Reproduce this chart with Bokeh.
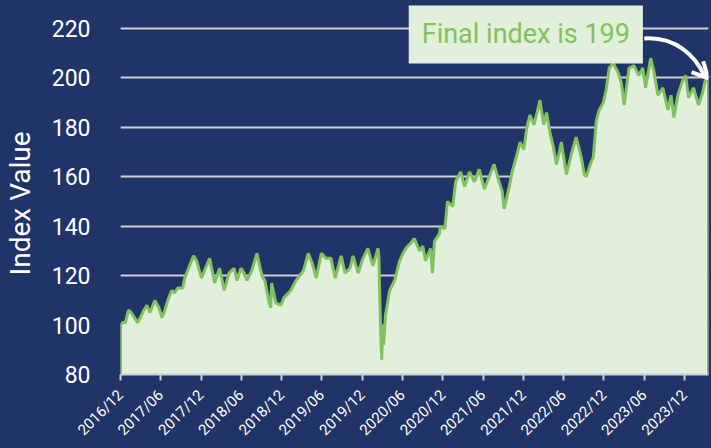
import pandas as pd
from math import pi
from bokeh.plotting import figure
from bokeh.models import (Range1d, MonthsTicker, DatetimeTickFormatter, SingleIntervalTicker,
                          Label, Arrow, OpenHead, GlobalInlineStyleSheet)
from bokeh.embed import file_html
from bokeh.resources import INLINE

# ---------------- data ----------------
dates = (
    ["2016-12-01", "2016-12-10", "2016-12-23"]
    + ["2017-01-06", "2017-01-19", "2017-02-02", "2017-02-16", "2017-03-01", "2017-03-17", "2017-03-31",
       "2017-04-13", "2017-05-06", "2017-05-24", "2017-06-07", "2017-06-20", "2017-07-03", "2017-07-21",
       "2017-08-04", "2017-08-17", "2017-09-09", "2017-09-18", "2017-10-10", "2017-10-28", "2017-11-11",
       "2017-12-03", "2017-12-21"]
    + ["2018-01-09", "2018-02-01", "2018-02-23", "2018-03-16", "2018-04-07", "2018-04-30", "2018-05-13",
       "2018-05-31", "2018-06-14", "2018-06-27", "2018-07-19", "2018-08-11", "2018-09-03", "2018-09-16",
       "2018-10-04", "2018-10-13", "2018-10-17", "2018-11-05", "2018-11-28", "2018-12-11"]
    + ["2019-01-12", "2019-02-04", "2019-03-10", "2019-04-01", "2019-04-19", "2019-05-07", "2019-05-30",
       "2019-06-21", "2019-07-13", "2019-08-01", "2019-08-28", "2019-09-15", "2019-10-07", "2019-10-21",
       "2019-11-13", "2019-12-05", "2019-12-27"]
    + ["2020-01-19", "2020-02-11", "2020-02-15", "2020-02-19", "2020-02-24", "2020-02-28", "2020-03-03",
       "2020-03-07", "2020-03-16", "2020-04-04", "2020-04-26", "2020-05-19", "2020-06-03", "2020-06-16",
       "2020-07-07", "2020-07-25", "2020-08-17", "2020-09-01", "2020-09-13", "2020-10-06", "2020-10-15",
       "2020-10-24", "2020-11-16", "2020-11-19", "2020-12-10", "2020-12-22"]
    + ["2021-01-15", "2021-01-28", "2021-02-20", "2021-03-09", "2021-04-01", "2021-04-23", "2021-05-15",
       "2021-06-07", "2021-06-29", "2021-07-21", "2021-08-13", "2021-08-27", "2021-09-05", "2021-09-28",
       "2021-10-11", "2021-11-02", "2021-11-16", "2021-12-03", "2021-12-17", "2021-12-31"]
    + ["2022-01-18", "2022-02-01", "2022-02-14", "2022-03-03", "2022-03-16", "2022-03-31", "2022-04-16",
       "2022-04-30", "2022-05-13", "2022-05-22", "2022-06-14", "2022-07-06", "2022-07-28", "2022-08-20",
       "2022-09-03", "2022-09-12", "2022-09-26", "2022-10-14", "2022-10-28", "2022-11-10", "2022-11-28",
       "2022-12-11", "2022-12-25"]
    + ["2023-01-12", "2023-02-04", "2023-02-18", "2023-03-03", "2023-03-25", "2023-04-16", "2023-05-08",
       "2023-05-26", "2023-06-08", "2023-07-01", "2023-07-15", "2023-08-03", "2023-08-25", "2023-09-17",
       "2023-10-01", "2023-10-14", "2023-11-01", "2023-11-23", "2023-12-06", "2023-12-20"]
    + ["2024-01-11", "2024-02-03", "2024-02-21", "2024-03-04", "2024-03-19"]
)

index_values = (
    [100, 101, 101]
    + [106, 105, 103, 101, 103, 106, 108, 105, 110, 107, 103, 106, 110, 114, 113, 115, 115, 119, 124, 128,
       126, 119, 123]
    + [127, 117, 123, 114, 121, 123, 118, 123, 121, 118, 122, 129, 120, 118, 110, 107, 117, 109, 108, 111]
    + [114, 118, 122, 129, 125, 119, 129, 127, 127, 119, 128, 121, 123, 128, 121, 127, 131]
    + [124, 131, 128, 112, 95, 86, 100, 92, 104, 114, 118, 126, 129, 131, 133, 135, 130, 132, 126, 131,
       121, 134, 137, 140, 139, 150]
    + [148, 158, 162, 156, 162, 158, 163, 155, 160, 165, 158, 154, 147, 156, 162, 169, 174, 171, 180, 185]
    + [181, 186, 191, 181, 186, 178, 172, 165, 170, 174, 161, 169, 176, 168, 161, 160, 164, 168, 183, 187,
       190, 195, 204]
    + [206, 202, 198, 189, 204, 205, 201, 204, 196, 208, 203, 193, 196, 187, 193, 184, 193, 199, 201, 192]
    + [196, 189, 194, 199, 199]
)

y_ticks_interval = 20
y_min, y_max = 80, 229.7
annotation_text = "Final index is 199"
axis_title = "Index Value"

# ---------------- styles ----------------
BG = "#213467"
FILL = "#e2efda"
GREEN = "#82c160"
GRID = "#cfd0d6"


def ms(d):
    return pd.Timestamp(d).value / 1e6


xs_ms = [ms(d) for d in dates]

p = figure(width=711, height=448, x_axis_type="datetime", output_backend="svg", toolbar_location=None,
           x_range=Range1d(xs_ms[0], xs_ms[-1]), y_range=Range1d(y_min, y_max),
           min_border_left=115, min_border_right=3, min_border_top=4, min_border_bottom=74,
           background_fill_color=BG, border_fill_color=BG, outline_line_color=None)
p.stylesheets = [GlobalInlineStyleSheet(
    css="html,body{margin:0;padding:0;background:#213467;overflow:hidden;}")]

# area + outline
p.varea(x=xs_ms, y1=y_min, y2=index_values, fill_color=FILL)
p.line(x=[xs_ms[0]] + xs_ms + [xs_ms[-1]], y=[y_min] + index_values + [y_min],
       line_color=GREEN, line_width=3)

# axes
p.xaxis.ticker = MonthsTicker(months=[5, 11])
p.xaxis.formatter = DatetimeTickFormatter(days="%Y/%m", months="%Y/%m", years="%Y/%m")
p.xaxis.major_label_orientation = pi / 4
p.xaxis.major_label_text_font = "Roboto"
p.xaxis.major_label_text_font_size = "15px"
p.xaxis.major_label_text_color = "white"
p.xaxis.axis_line_color = GRID
p.xaxis.axis_line_width = 2
p.xaxis.major_tick_line_color = GRID
p.xaxis.major_tick_line_width = 2
p.xaxis.major_tick_out = 6
p.xaxis.major_tick_in = 0
p.xaxis.minor_tick_line_color = None
p.xaxis.major_label_standoff = 12

p.yaxis.ticker = SingleIntervalTicker(interval=y_ticks_interval, num_minor_ticks=0)
p.yaxis.axis_line_color = None
p.yaxis.major_tick_line_color = None
p.yaxis.minor_tick_line_color = None
p.yaxis.major_label_text_font = "Roboto"
p.yaxis.major_label_text_font_size = "23px"
p.yaxis.major_label_text_color = "white"
p.yaxis.major_label_standoff = 24
# trailing non-breaking spaces shift the visible title down to the centre of the 80-220 band
p.yaxis.axis_label = axis_title + "\u00a0" * 4
p.yaxis.axis_label_text_font = "Roboto"
p.yaxis.axis_label_text_font_size = "28px"
p.yaxis.axis_label_text_font_style = "normal"
p.yaxis.axis_label_text_color = "white"
p.yaxis.axis_label_standoff = 12

p.xgrid.grid_line_color = None
p.ygrid.grid_line_color = GRID
p.ygrid.grid_line_width = 2

# annotation box
p.add_layout(Label(x=ms("2021-12-12"), y=217.6, text=annotation_text,
                   text_align="center", text_baseline="middle",
                   text_font="Roboto", text_font_size="27px", text_color=GREEN,
                   background_fill_color=FILL, padding=13))

# curved arrow
p.bezier(x0=[ms("2023-06-02")], y0=[215.95], x1=[ms("2024-03-02")], y1=[200.6],
         cx0=[ms("2023-10-24")], cy0=[216.8], cx1=[ms("2024-01-21")], cy1=[208.7],
         line_color="white", line_width=4)
p.add_layout(Arrow(end=OpenHead(size=16, line_color="white", line_width=4),
                   x_start=ms("2024-02-22"), y_start=202.2, x_end=ms("2024-03-18"), y_end=199.8,
                   line_color="white", line_width=4))

open("out.html", "w").write(file_html(p, INLINE))
